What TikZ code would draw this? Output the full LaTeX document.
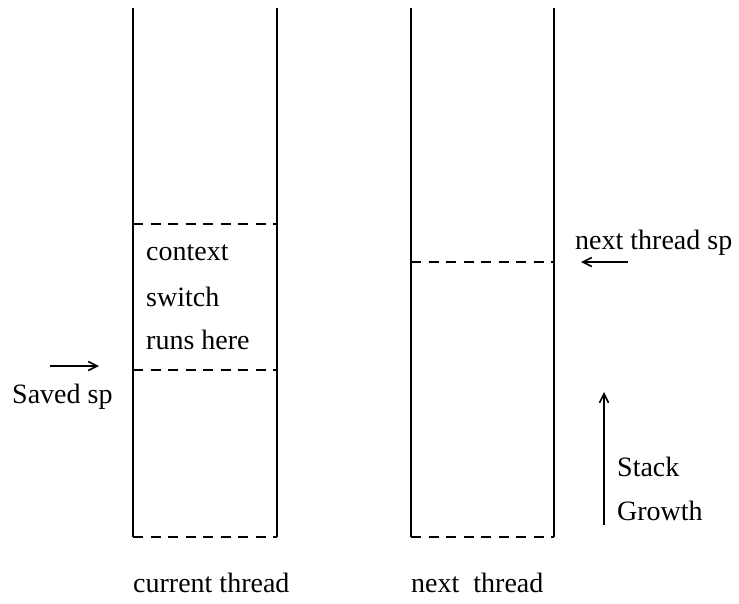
\documentclass[tikz,border=0pt]{standalone}
\usepackage{fontspec}
\setmainfont{Liberation Serif}
\usetikzlibrary{arrows.meta}
\begin{document}
\begin{tikzpicture}[x=1pt,y=-1pt,
  wall/.style={line width=2pt},
  divider/.style={line width=1.6pt,dash pattern=on 10pt off 7.5pt},
  lbl/.style={inner sep=0pt,anchor=west,font=\fontsize{28}{32}\selectfont},
  ptr/.style={line width=1.6pt,-{Straight Barb[length=9pt,width=9pt,line width=1.6pt]}}]
\useasboundingbox (0,0) rectangle (739,603);
% current thread stack
\coordinate (ctl) at (133,8);   \coordinate (ctr) at (277,8);
\coordinate (cbl) at (133,537); \coordinate (cbr) at (277,537);
\draw[wall] (ctl) -- (cbl);
\draw[wall] (ctr) -- (cbr);
\draw[divider] (cbl) -- (cbr);
\draw[divider] (133,224) -- (277,224);
\draw[divider] (133,370) -- (277,370);
% next thread stack
\coordinate (ntl) at (411,8);   \coordinate (ntr) at (554,8);
\coordinate (nbl) at (411,537); \coordinate (nbr) at (554,537);
\draw[wall] (ntl) -- (nbl);
\draw[wall] (ntr) -- (nbr);
\draw[divider] (nbl) -- (nbr);
\draw[divider] (411,262) -- (554,262);
% labels inside the current stack
\node[lbl] (ctx) at (146,253) {context};
\node[lbl] (sw)  at (146,297) {switch};
\node[lbl] (rh)  at (146,340) {runs here};
% saved stack pointer
\node[lbl] (saved) at (12,397) {Saved sp};
\coordinate (sa1) at (50,366); \coordinate (sa2) at (99,366);
\draw[ptr] (sa1) -- (sa2);
% next thread stack pointer
\node[lbl] (nsp) at (575,243) {next thread sp};
\coordinate (na1) at (628,262); \coordinate (na2) at (581,262);
\draw[ptr] (na1) -- (na2);
% growth direction
\coordinate (g1) at (604,525); \coordinate (g2) at (604,392);
\draw[ptr] (g1) -- (g2);
\node[lbl] (stk) at (617,467) {Stack};
\node[lbl] (gro) at (617,511) {Growth};
% captions
\node[lbl] (cur) at (133,583) {current thread};
\node[lbl] (nxt) at (411,583) {next\ \ thread};
\end{tikzpicture}
\end{document}
